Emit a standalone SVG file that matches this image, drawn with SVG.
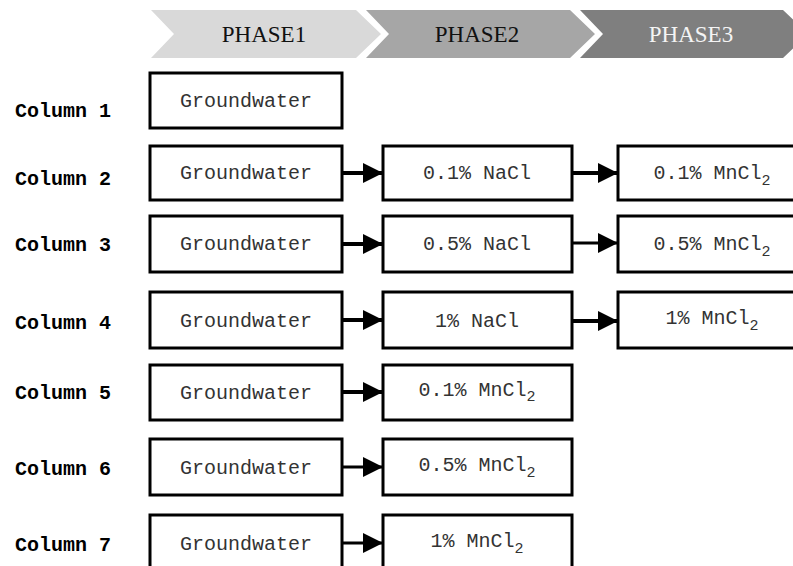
<svg xmlns="http://www.w3.org/2000/svg" width="793" height="566" viewBox="0 0 793 566">
<defs>
<style>
.box{fill:#fff;stroke:#000;stroke-width:3}
.bt{font-family:"Liberation Mono","DejaVu Sans Mono",monospace;font-size:20px;fill:#333;text-anchor:middle}
.lab{font-family:"Liberation Mono","DejaVu Sans Mono",monospace;font-size:20px;font-weight:bold;fill:#000}
.ph{font-family:"Liberation Serif","Times New Roman",serif;font-size:23px;text-anchor:middle}
.con{stroke:#000;stroke-width:4;fill:none;marker-end:url(#ah)}
</style>
<marker id="ah" markerUnits="userSpaceOnUse" markerWidth="20" markerHeight="20" refX="20" refY="10" viewBox="0 0 20 20" orient="auto">
<path d="M0,0 L20,10 L0,20 z" fill="#000"/>
</marker>
</defs>
<rect width="793" height="566" fill="#fff"/>
<g id="phases">
<g id="phase1"><polygon points="151,10 356,10 381,34 356,58 151,58 174,34" fill="#d9d9d9"/><text class="ph" x="264" y="42" fill="#111">PHASE1</text></g>
<g id="phase2"><polygon points="366,10 570,10 595,34 570,58 366,58 389,34" fill="#a6a6a6"/><text class="ph" x="477" y="42" fill="#111">PHASE2</text></g>
<g id="phase3"><polygon points="580,10 783,10 808,34 783,58 580,58 603,34" fill="#7f7f7f"/><text class="ph" x="691" y="42" fill="#f4f4f4">PHASE3</text></g>
</g>
<g id="labels">
<text class="lab" x="15" y="117">Column 1</text>
<text class="lab" x="15" y="185">Column 2</text>
<text class="lab" x="15" y="251">Column 3</text>
<text class="lab" x="15" y="329">Column 4</text>
<text class="lab" x="15" y="399">Column 5</text>
<text class="lab" x="15" y="475">Column 6</text>
<text class="lab" x="15" y="551">Column 7</text>
</g>
<g id="connectors">
<line class="con" x1="343" y1="173" x2="383" y2="173"/>
<line class="con" x1="343" y1="244" x2="383" y2="244"/>
<line class="con" x1="343" y1="320" x2="383" y2="320"/>
<line class="con" x1="343" y1="392" x2="383" y2="392"/>
<line class="con" x1="343" y1="467" x2="383" y2="467" style="stroke-width:3"/>
<line class="con" x1="343" y1="543" x2="383" y2="543" style="stroke-width:3"/>
<line class="con" x1="573" y1="173" x2="618" y2="173"/>
<line class="con" x1="573" y1="243" x2="618" y2="243" style="stroke-width:3"/>
<line class="con" x1="573" y1="321" x2="618" y2="321"/>
</g>
<g id="r1g"><rect class="box" x="150" y="73" width="192" height="55"/><text class="bt" x="246" y="107">Groundwater</text></g>
<g id="r2g"><rect class="box" x="150" y="146" width="192" height="54"/><text class="bt" x="246" y="179">Groundwater</text></g>
<g id="r2n"><rect class="box" x="383" y="146" width="189" height="54"/><text class="bt" x="477" y="179">0.1% NaCl</text></g>
<g id="r2m"><rect class="box" x="618" y="146" width="180" height="54"/><text class="bt" x="712" y="179">0.1% MnCl<tspan font-size="15" dy="6">2</tspan></text></g>
<g id="r3g"><rect class="box" x="150" y="216" width="192" height="56"/><text class="bt" x="246" y="250">Groundwater</text></g>
<g id="r3n"><rect class="box" x="383" y="216" width="189" height="56"/><text class="bt" x="477" y="250">0.5% NaCl</text></g>
<g id="r3m"><rect class="box" x="618" y="216" width="180" height="56"/><text class="bt" x="712" y="250">0.5% MnCl<tspan font-size="15" dy="6">2</tspan></text></g>
<g id="r4g"><rect class="box" x="150" y="292" width="192" height="56"/><text class="bt" x="246" y="327">Groundwater</text></g>
<g id="r4n"><rect class="box" x="383" y="292" width="189" height="56"/><text class="bt" x="477" y="327">1% NaCl</text></g>
<g id="r4m"><rect class="box" x="618" y="292" width="180" height="56"/><text class="bt" x="712" y="324">1% MnCl<tspan font-size="15" dy="6">2</tspan></text></g>
<g id="r5g"><rect class="box" x="150" y="365" width="192" height="55"/><text class="bt" x="246" y="399">Groundwater</text></g>
<g id="r5m"><rect class="box" x="383" y="365" width="189" height="55"/><text class="bt" x="477" y="396">0.1% MnCl<tspan font-size="15" dy="5">2</tspan></text></g>
<g id="r6g"><rect class="box" x="150" y="439" width="192" height="56"/><text class="bt" x="246" y="474">Groundwater</text></g>
<g id="r6m"><rect class="box" x="383" y="439" width="189" height="56"/><text class="bt" x="477" y="471">0.5% MnCl<tspan font-size="15" dy="6">2</tspan></text></g>
<g id="r7g"><rect class="box" x="150" y="515" width="192" height="60"/><text class="bt" x="246" y="550">Groundwater</text></g>
<g id="r7m"><rect class="box" x="383" y="515" width="189" height="60"/><text class="bt" x="477" y="547">1% MnCl<tspan font-size="15" dy="6">2</tspan></text></g>
</svg>
